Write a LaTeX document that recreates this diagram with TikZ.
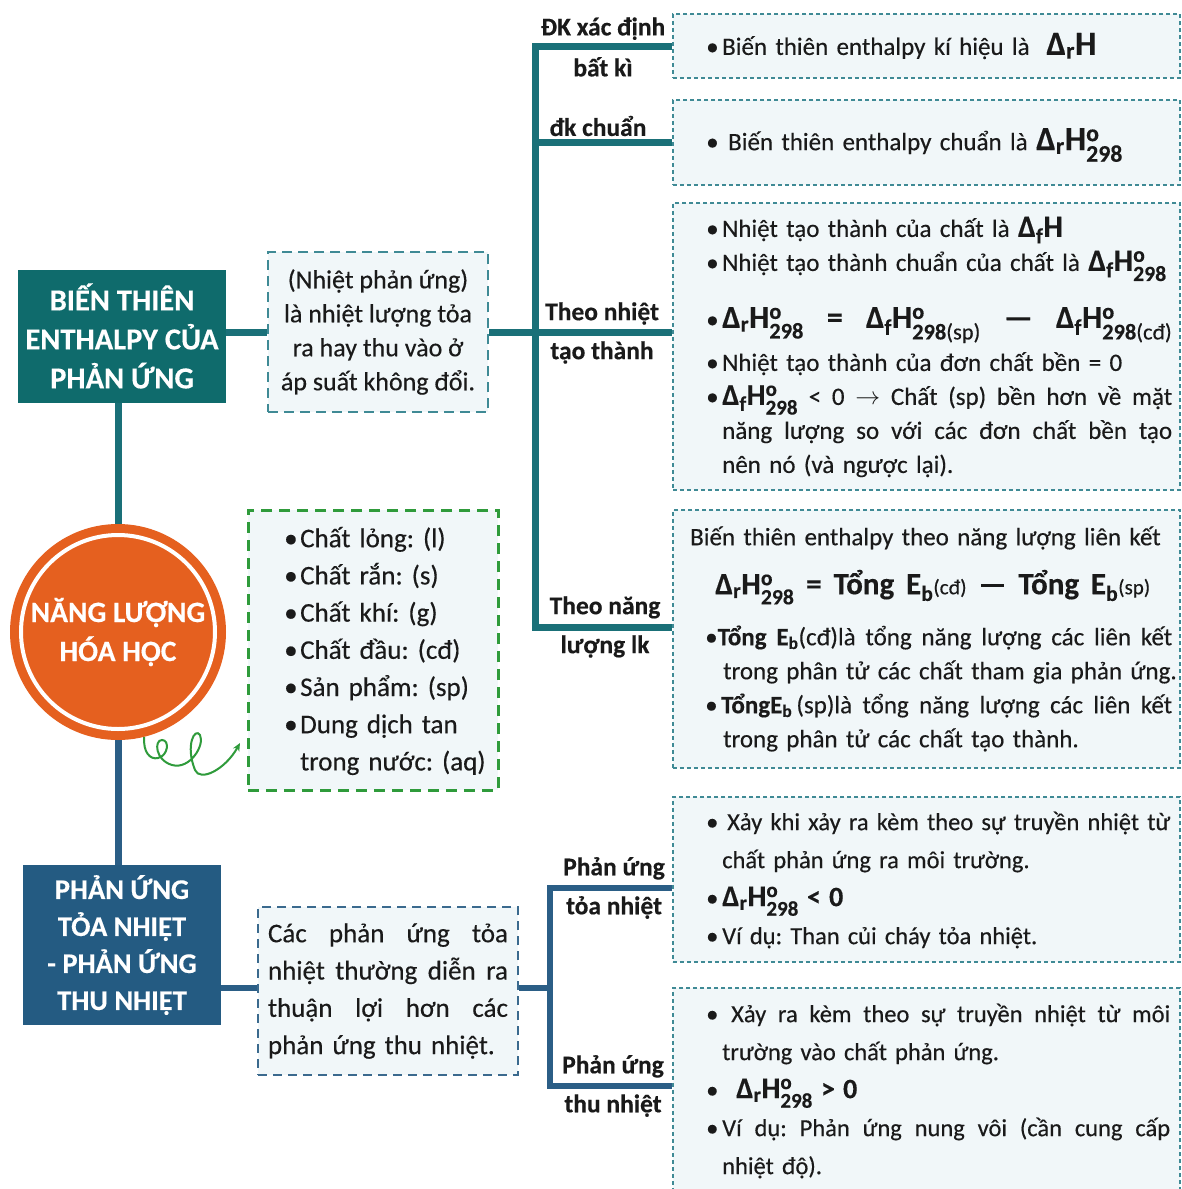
\documentclass[tikz,border=0pt]{standalone}
\usepackage{amsmath}
\usepackage{fontspec}
\setmainfont{Carlito}[FakeBold=0.35]
\usepackage{tikz}
\usetikzlibrary{arrows.meta,positioning,calc,backgrounds}
\definecolor{tealbox}  {HTML}{0F6B6C}
\definecolor{tealline} {HTML}{1A7078}
\definecolor{bluebox}  {HTML}{245B82}
\definecolor{blueline} {HTML}{2B5E86}
\definecolor{orangec}  {HTML}{E5601F}
\definecolor{greenc}   {HTML}{2F9B3B}
\definecolor{boxfill}  {HTML}{F1F7F9}
\definecolor{frameteal}{HTML}{3F8A95}
\definecolor{frameblue}{HTML}{3B6A8E}
\definecolor{ink}      {HTML}{1A1A1A}
\setlength{\parindent}{0pt}
\frenchspacing
\newcommand{\bl}{\makebox[16pt][l]{\textbullet}}
\newcommand{\fs}[1]{\fontsize{#1}{34}\selectfont}
\newcommand{\jline}[2]{\makebox[#1][s]{\spaceskip=0.226em plus 3em minus 0.05em\relax #2}}
\newcommand{\dH}[1]{\textbf{Δ}$_{\text{\bfseries #1}}$\textbf{H}}
\newcommand{\dHo}[2][]{\textbf{Δ}$_{\text{\bfseries #2}}$\textbf{H}$^{\text{\bfseries o}}_{\text{\bfseries 298}\text{#1}}$}
\newcommand{\Eb}{\textbf{E}$_{\text{\bfseries b}}$}
\tikzset{
  headbox/.style={fill=#1, text=white, align=center, inner sep=0pt},
  notebox/.style={draw=frameteal, fill=boxfill, line width=1.3pt,
    dash pattern=on 4pt off 3pt, minimum width=507pt, inner sep=0pt},
  notetext/.style={anchor=west, text width=520pt, align=left, inner sep=0pt,
    text=ink, font=\fontsize{25}{34}\selectfont},
  lbl/.style={align=center, inner sep=0pt, text=ink,
    font=\fontsize{25.5}{34}\selectfont\bfseries},
  tline/.style={draw=tealline, line width=7pt},
  bline/.style={draw=blueline, line width=6pt}
}

\begin{document}
\begin{tikzpicture}[x=1pt,y=-1pt]
  \useasboundingbox (0,0) rectangle (1182,1189);

  \node[headbox=tealbox, minimum width=208pt, minimum height=133pt,
        font=\fontsize{30.5}{39}\selectfont\bfseries] (bien) at (122,336)
    {BIẾN THIÊN\\ENTHALPY CỦA\\PHẢN ỨNG};
  \node[draw=frameteal, fill=boxfill, line width=2.5pt, dash pattern=on 10pt off 6pt,
        minimum width=220pt, minimum height=160pt, inner sep=0pt, align=center, text=ink,
        font=\fontsize{26}{34}\selectfont] (dinhnghia) at (378,332)
    {(Nhiệt phản ứng)\\là nhiệt lượng tỏa\\ra hay thu vào ở\\áp suất không đổi.};

  \node[circle, fill=orangec, minimum size=216pt, inner sep=0pt, align=center, text=white,
        font=\fontsize{29.5}{39}\selectfont\bfseries] (nangluong) at (118,632)
    {NĂNG LƯỢNG\\HÓA HỌC};
  \draw[white, line width=4pt] (nangluong.center) circle (97pt);

  \node[draw=greenc, fill=boxfill, line width=3pt, dash pattern=on 11pt off 7pt,
        minimum width=250pt, minimum height=280pt] (trangthai) at (373,650) {};
  \node[notetext, font=\fontsize{27}{37.2}\selectfont] (tT) at (284,651)
    {\bl Chất lỏng: (l)\\\bl Chất rắn: (s)\\\bl Chất khí: (g)\\\bl Chất đầu: (cđ)\\
     \bl Sản phẩm: (sp)\\\bl Dung dịch tan\\\hspace*{16pt}trong nước: (aq)};

  \node[headbox=bluebox, minimum width=198pt, minimum height=160pt,
        font=\fontsize{28.5}{37}\selectfont\bfseries] (phanung) at (122,945)
    {PHẢN ỨNG\\TỎA NHIỆT\\- PHẢN ỨNG\\THU NHIỆT};
  \node[draw=frameblue, fill=boxfill, line width=2.5pt, dash pattern=on 9pt off 6pt,
        minimum width=260pt, minimum height=168pt, inner sep=0pt, text width=240pt,
        align=left, text=ink, font=\fontsize{27}{37.3}\selectfont] (sosanh) at (388,991)
    {\jline{240pt}{Các phản ứng tỏa}\\\jline{240pt}{nhiệt thường diễn ra}\\
     \jline{240pt}{thuận lợi hơn các}\\phản ứng thu nhiệt.};

  \node[notebox, minimum height=64pt] (kA) at (926.5,46) {};
  \node[notetext] (tA) at (706,46) {\bl Biến thiên enthalpy kí hiệu là \ {\fs{34}\dH{r}}};
  \node[notebox, minimum height=85pt] (kB) at (926.5,142.5) {};
  \node[notetext] (tB) at (706,145) {\bl\hspace{6pt}Biến thiên enthalpy chuẩn là {\fs{34}\dHo{r}}};
  \node[notebox, minimum height=287pt] (kC) at (926.5,346.5) {};
  \node[notetext] (tC) at (706,347)
    {\bl Nhiệt tạo thành của chất là {\fs{31}\dH{f}}\\
     \bl Nhiệt tạo thành chuẩn của chất là {\fs{31}\dHo{f}}\\[23pt]
     \bl\jline{450pt}{\fs{32}\dHo{r} \textbf{=} \dHo[(sp)]{f} \textbf{—} \dHo[(cđ)]{f}}\\[9pt]
     \bl Nhiệt tạo thành của đơn chất bền = 0\\
     \bl\jline{450pt}{{\fs{30}\dHo{f}} < 0 $\to$ Chất (sp) bền hơn về mặt}\\
     \hspace*{16pt}\jline{450pt}{năng lượng so với các đơn chất bền tạo}\\
     \hspace*{16pt}nên nó (và ngược lại).};
  \node[notebox, minimum height=258pt] (kD) at (926.5,639) {};
  \node[notetext] (tD) at (690,639)
    {Biến thiên enthalpy theo năng lượng liên kết\\[15pt]
     \hspace*{25pt}\jline{435pt}{\fs{31}\dHo{r} \textbf{=} \textbf{Tổng} \Eb{\fontsize{21}{21}\selectfont(cđ)} \textbf{—} \textbf{Tổng} \Eb{\fontsize{21}{21}\selectfont(sp)}}\\[17pt]
     \hspace*{15pt}\jline{467pt}{•\textbf{Tổng} \Eb(cđ)là tổng năng lượng các liên kết}\\
     \hspace*{33pt}trong phân tử các chất tham gia phản ứng.\\
     \hspace*{15pt}\bl\jline{451pt}{\textbf{Tổng}\Eb\,(sp)là tổng năng lượng các liên kết}\\
     \hspace*{33pt}trong phân tử các chất tạo thành.};

  \node[notebox, minimum height=165pt] (kE) at (926.5,879.5) {};
  \node[notetext, font=\fontsize{24.5}{38}\selectfont] (tE) at (706,880)
    {\bl\hspace{5pt}\jline{443pt}{Xảy khi xảy ra kèm theo sự truyền nhiệt từ}\\
     \hspace*{16pt}chất phản ứng ra môi trường.\\
     \bl{\fs{30}\dHo{r}} \textbf{\fs{28}< 0}\\
     \bl Ví dụ: Than củi cháy tỏa nhiệt.};
  \node[notebox, minimum height=207pt] (kF) at (926.5,1091.5) {};
  \node[notetext, font=\fontsize{24.5}{38}\selectfont] (tF) at (706,1091)
    {\bl\hspace{9pt}\jline{439pt}{Xảy ra kèm theo sự truyền nhiệt từ môi}\\
     \hspace*{16pt}trường vào chất phản ứng.\\
     \bl\hspace{14pt}{\fs{30}\dHo{r}} \textbf{\fs{28}> 0}\\
     \bl\jline{448pt}{Ví dụ: Phản ứng nung vôi (cần cung cấp}\\
     \hspace*{16pt}nhiệt độ).};

  \node[lbl] (lA) at (603,47) {ĐK xác định\\[7pt]bất kì};
  \node[lbl] (lB) at (598,126) {đk chuẩn};
  \node[lbl] (lC) at (602,333) {Theo nhiệt\\[5pt]tạo thành};
  \node[lbl] (lD) at (605,627) {Theo năng\\[5pt]lượng lk};
  \node[lbl] (lE) at (614,888) {Phản ứng\\[5pt]tỏa nhiệt};
  \node[lbl] (lF) at (613,1086) {Phản ứng\\[5pt]thu nhiệt};

  \coordinate (t1) at (535,335);
  \coordinate (t2) at (550,988);
  \coordinate (tip) at (240,743);
  \begin{scope}[on background layer]
    \fill[white] (0,0) rectangle (1182,1189);
    \draw[tline] (nangluong.north) -- (nangluong.north |- bien.south);
    \draw[tline] (dinhnghia.west) -- (dinhnghia.west -| bien.east);
    \draw[tline] (dinhnghia.east) -- (dinhnghia.east -| kC.west);
    \draw[tline] (kA.west) -| (t1 |- lD) -- (lD -| kD.west);
    \draw[tline] (kB.west) -- (kB.west -| t1);
    \draw[bline, line width=7pt] (nangluong.south) -- (nangluong.south |- phanung.north);
    \draw[bline] (sosanh.west |- t2) -- (phanung.east |- t2);
    \draw[bline] (sosanh.east |- t2) -- (t2);
    \draw[bline] (lE -| kE.west) -| (t2 |- lF) -- (lF -| kF.west);
  \end{scope}
  \draw[greenc, line width=2pt, -{Stealth[length=8pt,width=7pt]}] (nangluong.-76)
    .. controls (143,752) and (150,760) .. (158,758)
    .. controls (168,756) and (170,740) .. (162,740)
    .. controls (154,740) and (155,760) .. (172,765)
    .. controls (190,770) and (205,745) .. (200,735)
    .. controls (195,727) and (185,745) .. (195,770)
    .. controls (200,782) and (225,770) .. (tip);
\end{tikzpicture}
\end{document}
